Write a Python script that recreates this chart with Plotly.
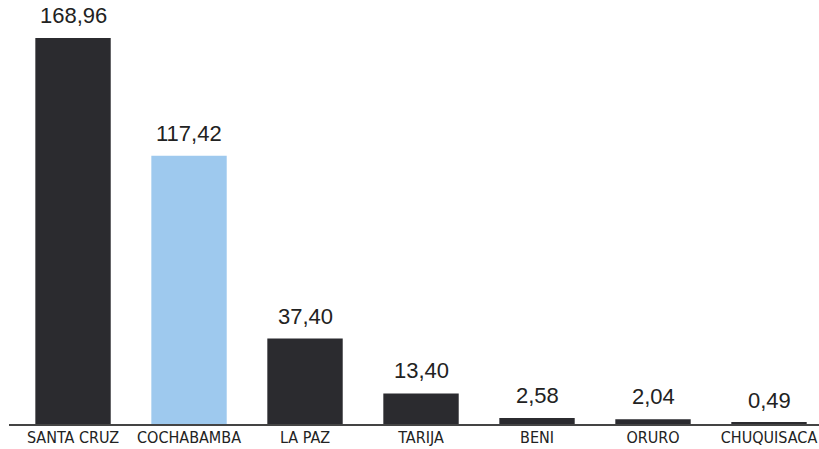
import plotly.graph_objects as go

categories = ["SANTA CRUZ", "COCHABAMBA", "LA PAZ", "TARIJA", "BENI", "ORURO", "CHUQUISACA"]
values = [168.96, 117.42, 37.40, 13.40, 2.58, 2.04, 0.49]
labels = ["168,96", "117,42", "37,40", "13,40", "2,58", "2,04", "0,49"]
colors = ["#2b2b2f", "#9ec9ee", "#2b2b2f", "#2b2b2f", "#2b2b2f", "#2b2b2f", "#2b2b2f"]

xs = list(range(len(categories)))

fig = go.Figure(go.Bar(
    x=xs,
    y=values,
    marker=dict(color=colors, line=dict(width=0)),
    width=0.65,
    hoverinfo="skip",
))

for x, v, t in zip(xs, values, labels):
    fig.add_annotation(
        x=x, y=v, text=t, showarrow=False,
        xanchor="center", yanchor="bottom", yshift=8,
        font=dict(family="Liberation Sans, Arial, sans-serif", size=22, color="#222222"),
    )

fig.update_layout(
    width=819, height=449,
    margin=dict(l=9, r=0, t=0, b=25),
    paper_bgcolor="white", plot_bgcolor="white",
    showlegend=False,
    xaxis=dict(
        range=[-0.552, 6.431],
        tickmode="array",
        tickvals=xs,
        ticktext=categories,
        tickangle=0,
        tickfont=dict(family="DejaVu Sans Condensed, Liberation Sans, sans-serif", size=16, color="#222222"),
        showgrid=False, zeroline=False,
        showline=True, linecolor="#444444", linewidth=1.5,
        ticks="", ticklabelstandoff=-2,
        ticklabeloverflow="allow",
        automargin=False,
    ),
    yaxis=dict(
        range=[0, 185.56],
        visible=False, showgrid=False, zeroline=False,
        automargin=False,
    ),
)

fig.write_html("out.html", config={"displayModeBar": False},
               post_script="document.body.style.margin='0';")
